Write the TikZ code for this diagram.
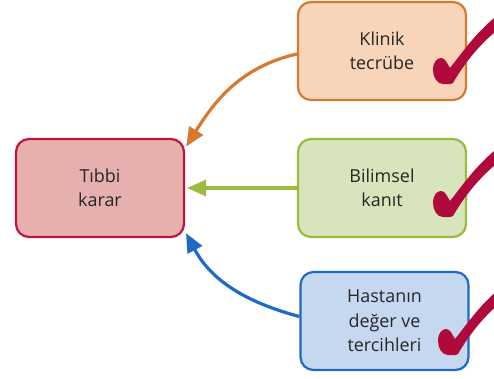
\documentclass[tikz,border=0pt]{standalone}
\usepackage{fontspec}
\setmainfont{Open Sans}
\usepackage{tikz}
\usetikzlibrary{arrows.meta}
\definecolor{kirmizi}{HTML}{C0143F}
\definecolor{kirmiziic}{HTML}{E6B0AE}
\definecolor{turuncu}{HTML}{D67A30}
\definecolor{turuncuic}{HTML}{F8D5B8}
\definecolor{yesil}{HTML}{9BBB3C}
\definecolor{yesilic}{HTML}{D8E4BC}
\definecolor{mavi}{HTML}{1E6AC8}
\definecolor{maviic}{HTML}{C6D8F0}
\definecolor{onay}{HTML}{B00A3C}
\definecolor{yazi}{HTML}{262626}

\begin{document}
\begin{tikzpicture}[x=1bp,y=1bp,
    kutu/.style={draw,line width=2.2bp,rounded corners=13bp,minimum width=168bp,minimum height=98bp,
        align=center,text=yazi,font=\fontsize{18}{24.5}\selectfont},
    ok/.style={line width=3.2bp,-{Triangle[length=19bp,width=16bp]},shorten >=2bp},
    checkmark/.pic={\fill[onay] (0,0) .. controls (-6,0) and (-10,7) .. (-10,14)
        .. controls (-10,22) and (-6,26) .. (-2,26)
        .. controls (2,26) and (4,21) .. (7,16)
        .. controls (19,31) and (33,52) .. (56,70)
        -- (60,58)
        .. controls (40,44) and (22,22) .. (10,1)
        .. controls (7,-1) and (2,0) .. (0,0) -- cycle;}]
    \useasboundingbox (0,0) rectangle (494,378);
    \node[kutu,draw=kirmizi,fill=kirmiziic] (tibbi) at (100,190) {Tıbbi\\karar};
    \node[kutu,draw=turuncu,fill=turuncuic] (klinik) at (382,327) {Klinik\\tecrübe};
    \node[kutu,draw=yesil,fill=yesilic] (bilimsel) at (382,190) {Bilimsel\\kanıt};
    \node[kutu,draw=mavi,fill=maviic] (hasta) at (384.5,57) {Hastanın\\değer ve\\tercihleri};
    \draw[ok,turuncu] (klinik.182) to[out=193,in=58] (tibbi.25);
    \draw[ok,yesil] (bilimsel.west) -- (tibbi.east);
    \draw[ok,mavi] (hasta.177) to[out=165,in=-62] (tibbi.-27);
    \pic at (443,294) {checkmark};
    \pic at (443,161) {checkmark};
    \pic at (448,23) {checkmark};
\end{tikzpicture}
\end{document}
